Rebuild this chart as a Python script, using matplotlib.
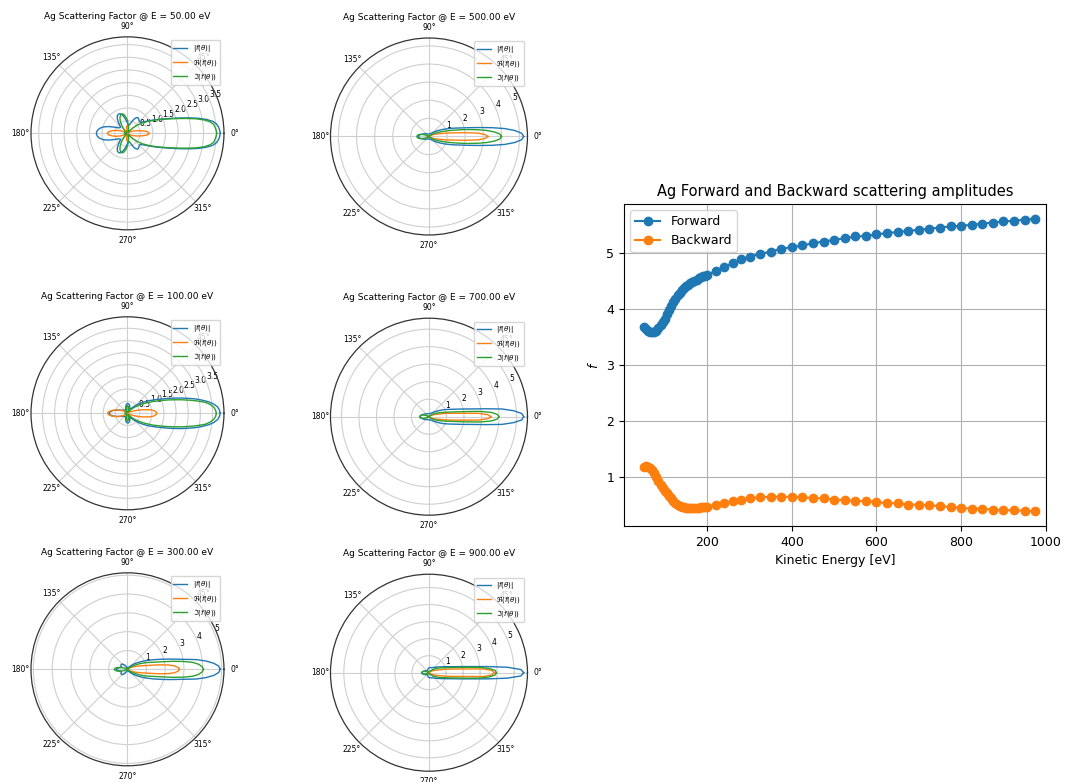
import numpy as np
import matplotlib
matplotlib.use("Agg")
import matplotlib.pyplot as plt

# scattering angles (deg) on which the amplitudes were sampled; curves are symmetric about 0
THETA_DEG = [0, 2, 4, 6, 8, 10, 12, 14, 16, 18, 20,
             25, 30, 35, 40, 45, 50, 55, 60, 65, 70, 75, 80, 85, 90,
             95, 100, 105, 110, 115, 120, 125, 130, 135, 140, 145, 150,
             155, 160, 165, 170, 175, 180]

POLAR_ENERGIES = [50, 100, 300, 500, 700, 900]

# |f(theta)|, Re and Im parts for each energy
ABS_50 = [3.66, 3.64, 3.60, 3.53, 3.40, 3.16, 2.86, 2.52, 2.20, 1.93, 1.70,
          1.30, 1.00, 0.80, 0.68, 0.66, 0.70, 0.74, 0.72, 0.62, 0.48, 0.38, 0.32, 0.33, 0.40,
          0.50, 0.62, 0.74, 0.82, 0.84, 0.80, 0.70, 0.55, 0.42, 0.36, 0.38, 0.44,
          0.58, 0.78, 0.98, 1.12, 1.20, 1.23]
RE_50 = [0.84, 0.83, 0.80, 0.74, 0.65, 0.57, 0.50, 0.43, 0.37, 0.32, 0.28,
         0.20, 0.12, 0.06, 0.02, 0.01, 0.01, 0.01, 0.01, 0.02, 0.05, 0.12, 0.22, 0.29, 0.31,
         0.29, 0.22, 0.12, 0.05, 0.02, 0.01, 0.01, 0.01, 0.01, 0.02, 0.05, 0.10,
         0.18, 0.30, 0.45, 0.60, 0.74, 0.80]
IM_50 = [3.52, 3.50, 3.46, 3.42, 3.28, 3.06, 2.76, 2.42, 2.12, 1.86, 1.65,
         1.25, 0.95, 0.72, 0.50, 0.30, 0.15, 0.06, 0.04, 0.06, 0.10, 0.15, 0.22, 0.35, 0.50,
         0.62, 0.74, 0.80, 0.78, 0.70, 0.58, 0.42, 0.25, 0.12, 0.06, 0.05, 0.06,
         0.08, 0.10, 0.11, 0.12, 0.12, 0.12]

ABS_100 = [3.82, 3.79, 3.72, 3.58, 3.38, 3.12, 2.85, 2.55, 2.28, 2.02, 1.80,
           1.35, 1.05, 0.80, 0.60, 0.42, 0.30, 0.22, 0.20, 0.22, 0.28, 0.34, 0.38, 0.40, 0.40,
           0.38, 0.34, 0.28, 0.22, 0.18, 0.16, 0.16, 0.17, 0.18, 0.20, 0.22, 0.25,
           0.30, 0.38, 0.50, 0.62, 0.72, 0.75]
RE_100 = [1.20, 1.19, 1.15, 1.08, 0.98, 0.86, 0.72, 0.60, 0.48, 0.38, 0.30,
          0.16, 0.08, 0.04, 0.02, 0.01, 0.01, 0.01, 0.02, 0.04, 0.08, 0.13, 0.18, 0.22, 0.24,
          0.22, 0.18, 0.13, 0.08, 0.04, 0.02, 0.02, 0.03, 0.05, 0.08, 0.12, 0.18,
          0.26, 0.38, 0.52, 0.66, 0.77, 0.82]
IM_100 = [3.66, 3.63, 3.56, 3.43, 3.24, 2.92, 2.60, 2.30, 2.02, 1.78, 1.56,
          1.15, 0.82, 0.58, 0.40, 0.26, 0.15, 0.08, 0.06, 0.08, 0.14, 0.20, 0.26, 0.30, 0.32,
          0.30, 0.26, 0.20, 0.14, 0.08, 0.05, 0.04, 0.04, 0.05, 0.06, 0.07, 0.08,
          0.09, 0.10, 0.10, 0.10, 0.10, 0.10]

ABS_300 = [4.93, 4.85, 4.60, 4.20, 3.70, 3.05, 2.60, 2.25, 1.95, 1.70, 1.50,
           1.10, 0.80, 0.58, 0.42, 0.30, 0.22, 0.16, 0.12, 0.10, 0.09, 0.08, 0.08, 0.08, 0.08,
           0.08, 0.09, 0.10, 0.12, 0.16, 0.22, 0.28, 0.34, 0.39, 0.42, 0.42, 0.40,
           0.36, 0.34, 0.38, 0.46, 0.55, 0.60]
RE_300 = [2.76, 2.70, 2.52, 2.20, 1.70, 1.22, 0.95, 0.78, 0.63, 0.52, 0.44,
          0.28, 0.16, 0.08, 0.04, 0.02, 0.02, 0.02, 0.02, 0.02, 0.02, 0.02, 0.02, 0.02, 0.02,
          0.02, 0.02, 0.02, 0.02, 0.02, 0.02, 0.02, 0.02, 0.02, 0.02, 0.02, 0.02,
          0.02, 0.03, 0.04, 0.05, 0.08, 0.10]
IM_300 = [4.04, 3.97, 3.80, 3.50, 3.00, 2.45, 1.95, 1.60, 1.35, 1.18, 1.04,
          0.70, 0.42, 0.25, 0.15, 0.10, 0.06, 0.04, 0.03, 0.03, 0.03, 0.03, 0.03, 0.03, 0.03,
          0.03, 0.03, 0.03, 0.03, 0.03, 0.03, 0.03, 0.03, 0.03, 0.03, 0.03, 0.06,
          0.10, 0.20, 0.38, 0.55, 0.66, 0.71]

ABS_500 = [5.23, 5.12, 4.75, 4.20, 3.50, 2.85, 2.35, 1.98, 1.70, 1.50, 1.32,
           0.98, 0.72, 0.55, 0.42, 0.33, 0.27, 0.22, 0.19, 0.17, 0.15, 0.14, 0.14, 0.14, 0.14,
           0.14, 0.14, 0.14, 0.14, 0.15, 0.16, 0.18, 0.20, 0.22, 0.24, 0.27, 0.30,
           0.34, 0.39, 0.45, 0.51, 0.56, 0.59]
RE_500 = [3.25, 3.10, 2.70, 2.00, 1.45, 1.10, 0.85, 0.66, 0.54, 0.44, 0.37,
          0.24, 0.15, 0.08, 0.04, 0.02, 0.02, 0.02, 0.02, 0.02, 0.02, 0.02, 0.02, 0.02, 0.02,
          0.02, 0.02, 0.02, 0.02, 0.02, 0.02, 0.02, 0.02, 0.02, 0.02, 0.02, 0.02,
          0.02, 0.02, 0.02, 0.04, 0.07, 0.10]
IM_500 = [4.00, 3.92, 3.62, 3.20, 2.70, 2.20, 1.80, 1.45, 1.20, 0.98, 0.82,
          0.55, 0.35, 0.20, 0.10, 0.05, 0.03, 0.03, 0.03, 0.03, 0.03, 0.03, 0.03, 0.03, 0.03,
          0.03, 0.03, 0.03, 0.03, 0.03, 0.03, 0.03, 0.03, 0.03, 0.03, 0.03, 0.06,
          0.15, 0.30, 0.46, 0.58, 0.65, 0.67]

ABS_700 = [5.41, 5.30, 4.85, 4.20, 3.25, 2.55, 2.12, 1.80, 1.55, 1.37, 1.22,
           0.95, 0.72, 0.55, 0.44, 0.36, 0.30, 0.26, 0.23, 0.21, 0.19, 0.18, 0.18, 0.18, 0.18,
           0.18, 0.18, 0.18, 0.18, 0.18, 0.19, 0.20, 0.21, 0.23, 0.25, 0.27, 0.30,
           0.33, 0.37, 0.41, 0.45, 0.48, 0.50]
RE_700 = [3.55, 3.35, 2.80, 1.85, 1.38, 1.10, 0.85, 0.65, 0.53, 0.44, 0.37,
          0.24, 0.14, 0.07, 0.03, 0.02, 0.02, 0.02, 0.02, 0.02, 0.02, 0.02, 0.02, 0.02, 0.02,
          0.02, 0.02, 0.02, 0.02, 0.02, 0.02, 0.02, 0.02, 0.02, 0.02, 0.02, 0.02,
          0.02, 0.02, 0.02, 0.04, 0.06, 0.08]
IM_700 = [4.00, 3.90, 3.55, 2.90, 2.10, 1.60, 1.28, 1.05, 0.90, 0.78, 0.68,
          0.48, 0.32, 0.20, 0.10, 0.05, 0.03, 0.03, 0.03, 0.03, 0.03, 0.03, 0.03, 0.03, 0.03,
          0.03, 0.03, 0.03, 0.03, 0.03, 0.03, 0.03, 0.03, 0.03, 0.03, 0.03, 0.05,
          0.12, 0.25, 0.38, 0.47, 0.52, 0.54]

ABS_900 = [5.56, 5.40, 4.60, 3.45, 2.60, 2.08, 1.72, 1.46, 1.28, 1.14, 1.03,
           0.82, 0.68, 0.58, 0.50, 0.45, 0.40, 0.37, 0.35, 0.33, 0.32, 0.31, 0.30, 0.29, 0.28,
           0.27, 0.25, 0.22, 0.20, 0.18, 0.16, 0.15, 0.15, 0.16, 0.18, 0.20, 0.22,
           0.26, 0.30, 0.34, 0.37, 0.39, 0.40]
RE_900 = [3.82, 3.70, 3.20, 2.10, 1.55, 1.22, 0.98, 0.75, 0.62, 0.52, 0.44,
          0.30, 0.20, 0.12, 0.06, 0.03, 0.03, 0.03, 0.03, 0.03, 0.03, 0.03, 0.03, 0.03, 0.03,
          0.03, 0.03, 0.03, 0.03, 0.03, 0.03, 0.03, 0.03, 0.03, 0.03, 0.03, 0.03,
          0.03, 0.03, 0.03, 0.04, 0.05, 0.06]
IM_900 = [3.96, 3.88, 3.55, 3.00, 2.30, 1.80, 1.48, 1.25, 1.08, 0.95, 0.85,
          0.66, 0.50, 0.38, 0.28, 0.20, 0.15, 0.12, 0.10, 0.07, 0.07, 0.07, 0.07, 0.07, 0.07,
          0.07, 0.07, 0.07, 0.07, 0.07, 0.07, 0.07, 0.07, 0.07, 0.07, 0.07, 0.07,
          0.12, 0.20, 0.30, 0.38, 0.42, 0.44]

POLAR_DATA = {
    50: (ABS_50, RE_50, IM_50),
    100: (ABS_100, RE_100, IM_100),
    300: (ABS_300, RE_300, IM_300),
    500: (ABS_500, RE_500, IM_500),
    700: (ABS_700, RE_700, IM_700),
    900: (ABS_900, RE_900, IM_900),
}

# forward / backward amplitudes vs kinetic energy
ENERGY = ([50, 55, 60, 65, 70, 75, 80, 85, 90, 95, 100, 105, 110, 115, 120, 125,
           130, 135, 140, 145, 150, 155, 160, 165, 170, 175, 180, 185, 190, 195]
          + [200, 220, 240, 260, 280]
          + [300, 325, 350, 375, 400, 425, 450, 475, 500, 525, 550, 575, 600, 625,
             650, 675, 700, 725, 750, 775, 800, 825, 850, 875, 900, 925, 950, 975])
FORWARD = [3.67, 3.64, 3.60, 3.59, 3.58, 3.59, 3.61, 3.65, 3.70, 3.76, 3.82, 3.90,
           3.97, 4.04, 4.12, 4.18, 4.24, 4.28, 4.33, 4.37, 4.40, 4.43, 4.46, 4.48,
           4.50, 4.52, 4.54, 4.56, 4.58, 4.59,
           4.61, 4.67, 4.75, 4.81, 4.88,
           4.93, 4.98, 5.02, 5.07, 5.10, 5.13, 5.17, 5.20, 5.23, 5.26, 5.29, 5.30,
           5.33, 5.35, 5.37, 5.39, 5.41, 5.43, 5.45, 5.47, 5.48, 5.50, 5.52, 5.54,
           5.56, 5.57, 5.59, 5.61]
BACKWARD = [1.18, 1.19, 1.18, 1.16, 1.12, 1.06, 1.00, 0.93, 0.85, 0.79, 0.75, 0.70,
            0.65, 0.61, 0.56, 0.53, 0.50, 0.48, 0.46, 0.45, 0.44, 0.44, 0.44, 0.44,
            0.44, 0.44, 0.44, 0.45, 0.45, 0.46,
            0.46, 0.50, 0.53, 0.56, 0.59,
            0.61, 0.63, 0.64, 0.64, 0.64, 0.63, 0.62, 0.61, 0.59, 0.58, 0.57, 0.56,
            0.54, 0.53, 0.52, 0.50, 0.50, 0.49, 0.47, 0.46, 0.44, 0.43, 0.43, 0.41,
            0.40, 0.40, 0.39, 0.38]

fig = plt.figure(figsize=(10.65, 7.82), dpi=100, facecolor='w')

# left two columns of polar plots: [left, bottom, width, height]
polar_rects = {
    50: [0.0291, 0.7061, 0.1812, 0.2468],
    100: [0.0291, 0.3481, 0.1812, 0.2468],
    300: [0.0291, 0.0207, 0.1812, 0.2468],
    500: [0.3103, 0.6995, 0.1850, 0.2519],
    700: [0.3103, 0.3412, 0.1850, 0.2519],
    900: [0.3103, 0.0138, 0.1850, 0.2519],
}

theta_half = np.deg2rad(THETA_DEG)
theta_full = np.concatenate([theta_half, 2 * np.pi - theta_half[::-1][1:]])
labels = [r'$|f(\theta)|$', r'$\Re(f(\theta))$', r'$\Im(f(\theta))$']

for energy in POLAR_ENERGIES:
    ax = fig.add_axes(polar_rects[energy], projection='polar')
    for vals, lab in zip(POLAR_DATA[energy], labels):
        vals = np.asarray(vals)
        r_full = np.concatenate([vals, vals[::-1][1:]])
        ax.plot(theta_full, r_full, lw=1, label=lab)
    ax.set_rmin(0)
    ax.set_rmax(max(POLAR_DATA[energy][0]) * 1.04)
    ax.set_title(f"Ag Scattering Factor @ E = {energy:.2f} eV", fontsize=6.5,
                 y=1.09, pad=0)
    ax.tick_params(axis='both', labelsize=5.5)
    ax.tick_params(axis='x', pad=-3)
    ax.grid(color='#cfcfcf', lw=0.8)
    ax.spines['polar'].set_color('#333333')
    ax.spines['polar'].set_linewidth(0.9)
    ax.legend(loc='upper right', fontsize=5)

# forward / backward amplitudes
ax = fig.add_axes([0.586, 0.3274, 0.396, 0.4118])
ax.plot(ENERGY, FORWARD, 'o-', label='Forward')
ax.plot(ENERGY, BACKWARD, 'o-', label='Backward')
ax.set_xlim(right=1000)
ax.set_title('Ag Forward and Backward scattering amplitudes', fontsize=10.5)
ax.set_xlabel('Kinetic Energy [eV]', fontsize=9)
ax.set_ylabel(r'$f$', fontsize=9)
ax.tick_params(labelsize=9)
ax.grid(True)
ax.legend(loc='upper left', fontsize=9)

fig.savefig('out.png', dpi=100)
